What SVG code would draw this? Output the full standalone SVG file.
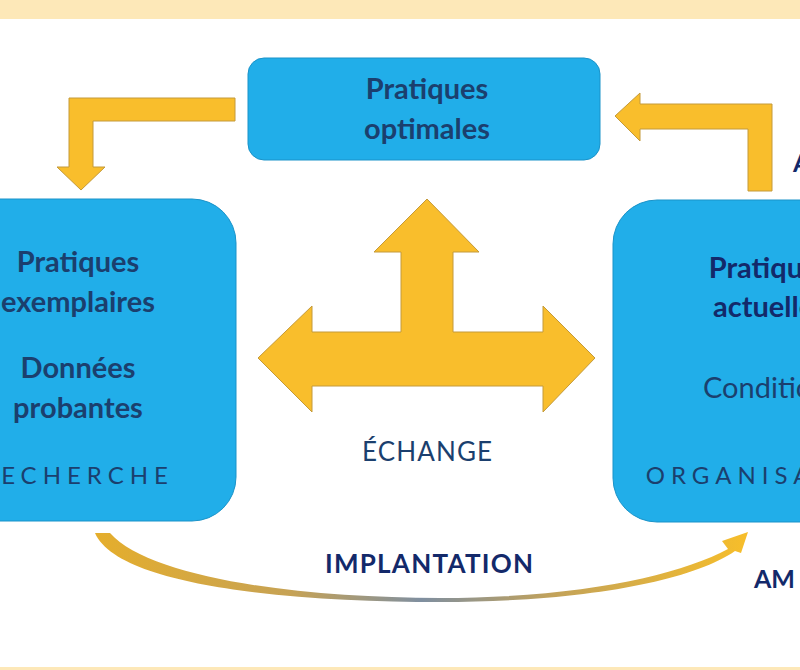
<svg xmlns="http://www.w3.org/2000/svg" width="800" height="670" viewBox="0 0 800 670">
<defs>
<style>
.box{fill:#21AEE9;stroke:#1A93C9;stroke-width:1}
.arr{fill:#F9BE2C;stroke:#C49A3A;stroke-width:1}
.t{font-family:Lato,"Open Sans","Liberation Sans",sans-serif;text-anchor:middle}
.b{font-weight:bold}
.nav{fill:#1B3F6E}
.dk{fill:#13296A}
.sp{letter-spacing:6px;font-size:24px}
</style>
<linearGradient id="cg" x1="95" y1="0" x2="748" y2="0" gradientUnits="userSpaceOnUse">
<stop offset="0" stop-color="#E5AE2C"/>
<stop offset="0.3" stop-color="#C6A255"/>
<stop offset="0.5" stop-color="#7F8FA0"/>
<stop offset="0.7" stop-color="#C2A25A"/>
<stop offset="1" stop-color="#F7BE2A"/>
</linearGradient>
</defs>
<rect x="0" y="0" width="800" height="670" fill="#FFFFFF"/>
<rect x="0" y="0" width="800" height="19" fill="#FDE8B8"/>
<rect x="0" y="667" width="800" height="3" fill="#FDE8B8"/>

<g id="node-optimales">
<rect class="box" x="248" y="58" width="352" height="102" rx="16"/>
<text class="t b nav" x="427" y="99" font-size="29">Pratiques</text>
<text class="t b nav" x="427" y="139" font-size="29">optimales</text>
</g>

<g id="node-recherche">
<rect class="box" x="-80" y="199" width="316" height="322" rx="44"/>
<text class="t b nav" x="78" y="272" font-size="29">Pratiques</text>
<text class="t b nav" x="78" y="312" font-size="29">exemplaires</text>
<text class="t b nav" x="78" y="378" font-size="29">Données</text>
<text class="t b nav" x="78" y="418" font-size="29">probantes</text>
<text class="t nav sp" x="77" y="484">RECHERCHE</text>
</g>

<g id="node-organisation">
<rect class="box" x="613" y="200" width="316" height="322" rx="44"/>
<text class="t b dk" x="770" y="278" font-size="29">Pratiques</text>
<text class="t b dk" x="770" y="317" font-size="29">actuelles</text>
<text class="t nav" x="772" y="398" font-size="29">Conditions</text>
<text class="t nav sp" x="771" y="484">ORGANISATION</text>
</g>

<g id="connectors">
<path class="arr" d="M235,98 L235,121 L93,121 L93,167 L105,167 L81,190 L57,167 L69,167 L69,98 Z"/>
<path class="arr" d="M772,191 L748,191 L748,129 L640,129 L640,141 L615,116 L640,93 L640,104 L772,104 Z"/>
<path class="arr" d="M427,199 L479,252 L453,252 L453,332 L543,332 L543,306 L595,358 L543,412 L543,386 L312,386 L312,412 L258,358 L312,306 L312,332 L401,332 L401,252 L374,252 Z"/>
<path fill="url(#cg)" d="M110,533 C150,578 300,598 440,598 C580,598 680,575 728,549 L722,541 L748,532 L741,553 L735,551 C690,582 580,602 440,602 C290,602 118,586 95,533 Z"/>
</g>

<g id="labels">
<text class="t nav" x="427" y="461" font-size="26" textLength="130">ÉCHANGE</text>
<text class="t b dk" x="429" y="573" font-size="26" textLength="208">IMPLANTATION</text>
<text class="t b dk" x="754" y="588" font-size="25" style="text-anchor:start">AM</text>
<text class="t b dk" x="793" y="172" font-size="25" style="text-anchor:start">A</text>
</g>
</svg>
